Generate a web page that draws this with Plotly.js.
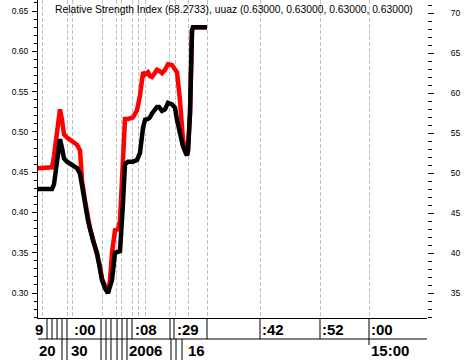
<!DOCTYPE html>
<html><head><meta charset="utf-8">
<script src="https://cdn.plot.ly/plotly-3.0.1.min.js"></script>
<style>html,body{margin:0;padding:0;background:#fff;} #chart{width:465px;height:360px;}</style>
</head><body><div id="chart"></div>
<script>
// x positions are bar slots along the compressed time axis
const xSlot = [0,14,16,19,21,22,24,26,29,32,35,39,42,44,47,50,52,55,59,62,64,67,70,72,74,77,80,82,85,87,90,95,99,102,105,107,110,112,114,117,119,121,124,127,130,134,137,139,142,145,148,149,150,152,154,155,169];
const rsiBlack = [0.429,0.429,0.435,0.465,0.488,0.491,0.48,0.467,0.463,0.461,0.458,0.455,0.448,0.43,0.412,0.39,0.378,0.365,0.35,0.333,0.316,0.306,0.30,0.308,0.316,0.35,0.351,0.352,0.412,0.46,0.463,0.463,0.465,0.474,0.505,0.515,0.516,0.518,0.523,0.527,0.531,0.531,0.526,0.528,0.536,0.534,0.530,0.515,0.498,0.482,0.473,0.471,0.477,0.523,0.626,0.630,0.630];
const rsiRed = [0.455,0.456,0.47,0.505,0.528,0.528,0.515,0.497,0.493,0.490,0.488,0.484,0.477,0.44,0.415,0.392,0.38,0.367,0.35,0.333,0.318,0.308,0.30,0.316,0.35,0.378,0.379,0.39,0.48,0.516,0.516,0.518,0.527,0.545,0.574,0.571,0.574,0.569,0.568,0.574,0.577,0.576,0.573,0.577,0.584,0.583,0.578,0.574,0.539,0.49,0.477,0.471,0.477,0.523,0.626,0.630,0.630];

const gridSlots = [4,29,34,64,78,83,94,100,107,131,137,150,169,222,282,331];
const row1Sep = [9,14,19,24,29,63,68,73,79,84,89,94,132,136,169,222,282,331];
const row2Sep = [24,29,63,68,73,79,84,89,133,138,144];
const row2Mark = [331];
const row1Labels = ['9', ':00', ':08', ':29', ':42', ':52', ':00'];
const row1LabelPos = [0, 34, 95, 137, 222, 282, 331];
const row2Labels = ['20', '30', '2006', '16', '15:00'];
const row2LabelPos = [0, 31, 89, 148, 331];
const leftTicks = [0.30,0.35,0.40,0.45,0.50,0.55,0.60,0.65];
const rightTicks = [35,40,45,50,55,60,65,70];
const titleText = 'Relative Strength Index (68.2733), uuaz (0.63000, 0.63000, 0.63000, 0.63000)';

const H = 318; // plot height in px, used to place the axis table rows
const rowH = 21;
const shapes = [];
row1Sep.forEach(s => shapes.push({type:'line', xref:'x', yref:'paper', x0:s, x1:s, y0:0, y1:-rowH/H, line:{color:'#000', width:1}}));
row2Sep.forEach(s => shapes.push({type:'line', xref:'x', yref:'paper', x0:s, x1:s, y0:-rowH/H, y1:-2*rowH/H, line:{color:'#000', width:1}}));
row2Mark.forEach(s => shapes.push({type:'line', xref:'x', yref:'paper', x0:s, x1:s, y0:-rowH/H, y1:-(rowH+6)/H, line:{color:'#000', width:1}}));
shapes.push({type:'line', xref:'paper', yref:'paper', x0:0, x1:1, y0:-rowH/H, y1:-rowH/H, line:{color:'#000', width:1}});

const lblFont = {family:'Liberation Sans, Arial, sans-serif', size:15, color:'#000', weight:'bold'};
const annotations = [];
row1Labels.forEach((t,i) => annotations.push({text:'<b>'+t+'</b>', xref:'x', yref:'paper', x:row1LabelPos[i], y:-11/H, xanchor:'left', yanchor:'middle', showarrow:false, font:lblFont, xshift: i===0 ? -5 : 0}));
row2Labels.forEach((t,i) => annotations.push({text:'<b>'+t+'</b>', xref:'x', yref:'paper', x:row2LabelPos[i], y:-32/H, xanchor:'left', yanchor:'middle', showarrow:false, font:lblFont, xshift: i===0 ? -1 : 0}));
annotations.push({text:titleText, xref:'paper', yref:'paper', x:0.039, y:1, xanchor:'left', yanchor:'top', yshift:-2, showarrow:false, font:{family:'Liberation Sans, Arial, sans-serif', size:10.3, color:'#000'}});

const tickFont = {family:'Liberation Sans, Arial, sans-serif', size:8.5, color:'#000'};
const data = [
  {x:xSlot, y:rsiRed, type:'scatter', mode:'lines', line:{color:'#ff0000', width:4.5}, hoverinfo:'skip'},
  {x:xSlot, y:rsiBlack, type:'scatter', mode:'lines', line:{color:'#000000', width:4.5}, hoverinfo:'skip'},
  // carrier for the right-hand scale (draws nothing)
  {x:[xSlot[0]], y:[rightTicks[0]], yaxis:'y2', type:'scatter', mode:'none', hoverinfo:'skip'}
];
const layout = {
  width:465, height:360,
  margin:{l:38, r:38, t:0, b:42, pad:0},
  paper_bgcolor:'#fff', plot_bgcolor:'#fff',
  showlegend:false, hovermode:false,
  xaxis:{range:[0,389], showline:true, linecolor:'#000', linewidth:1, tickmode:'array', tickvals:gridSlots,
         showticklabels:false, ticks:'', showgrid:true, gridcolor:'#c0c0c0', gridwidth:1, griddash:'4px,2px', zeroline:false, fixedrange:true},
  yaxis:{range:[0.269,0.6637], showline:true, linecolor:'#000', linewidth:1, tickmode:'linear', tick0:leftTicks[0], dtick:0.05,
         tickformat:'.2f', ticks:'outside', ticklen:5, tickcolor:'#000', showgrid:false, zeroline:false, tickfont:tickFont,
         ticklabelstandoff:2,
         minor:{dtick:0.01, tick0:leftTicks[0], ticks:'outside', ticklen:3, tickcolor:'#000', showgrid:false}},
  yaxis2:{overlaying:'y', side:'right', anchor:'x', range:[31.875,71.625], showline:false, tickmode:'linear', tick0:rightTicks[0], dtick:5,
          ticks:'outside', ticklen:6, tickcolor:'#000', showgrid:false, zeroline:false, tickfont:tickFont, ticklabelstandoff:15,
          minor:{dtick:1, tick0:rightTicks[0], ticks:'outside', ticklen:4, tickcolor:'#000', showgrid:false}},
  shapes:shapes,
  annotations:annotations
};
Plotly.newPlot('chart', data, layout, {staticPlot:true, displayModeBar:false});
</script>
</body></html>
